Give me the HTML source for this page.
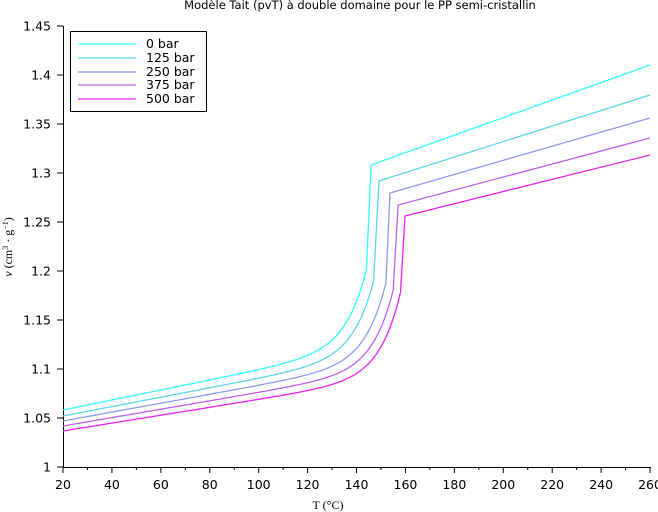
<!DOCTYPE html>
<html><head><meta charset="utf-8"><style>
body{margin:0;background:#fff}
svg{display:block;font-family:"DejaVu Sans","Liberation Sans",sans-serif}
</style></head><body>
<svg id="s" width="658" height="512" viewBox="0 0 658 512">
<text x="360" y="9" font-size="11.5" text-anchor="middle">Modèle Tait (pvT) à double domaine pour le PP semi-cristallin</text>
<g id="ax" stroke="#000" stroke-width="1" fill="none">
<line x1="63.5" y1="26" x2="63.5" y2="467.5"/>
<line x1="63" y1="467.5" x2="651" y2="467.5"/>
</g>
<g id="tk"></g>
<g id="cv" fill="none" stroke-width="1.3"></g>
<rect x="70.5" y="31.5" width="136" height="80" fill="#fff" stroke="#000"/>
<g font-size="12.5">
<line x1="78" y1="44" x2="136" y2="44" stroke="#33ffff" stroke-width="1.3"/><text x="146" y="48">0 bar</text>
<line x1="78" y1="58" x2="136" y2="58" stroke="#5cd6e6" stroke-width="1.3"/><text x="146" y="62">125 bar</text>
<line x1="78" y1="72" x2="136" y2="72" stroke="#8f9cee" stroke-width="1.3"/><text x="146" y="76">250 bar</text>
<line x1="78" y1="85" x2="136" y2="85" stroke="#c060ee" stroke-width="1.3"/><text x="146" y="89">375 bar</text>
<line x1="78" y1="99" x2="136" y2="99" stroke="#ee22ee" stroke-width="1.3"/><text x="146" y="103">500 bar</text>
</g>
<text x="328" y="509" font-size="12" text-anchor="middle" font-family="Liberation Serif,serif">T (°C)</text>
<text transform="translate(12,247) rotate(-90)" font-size="12" text-anchor="middle" font-family="Liberation Serif,serif"><tspan font-style="italic">v</tspan> (cm<tspan font-size="8" dy="-4">3</tspan><tspan dy="4"> · g</tspan><tspan font-size="8" dy="-4">−1</tspan><tspan dy="4">)</tspan></text>
</svg>
<script>
function X(t){return 63+(t-20)*2.446}
function Y(v){return 467-(v-1)*980}
var tk=document.getElementById("tk"),h="";
for(var i=0;i<=9;i++){var v=1+i*0.05,y=Y(v);
h+='<line x1="57" y1="'+y+'" x2="63" y2="'+y+'" stroke="#000"/>';
h+='<text x="51" y="'+(y+4.5)+'" font-size="12.5" text-anchor="end">'+(+v.toFixed(2))+'</text>';}
for(var t=20;t<=260;t+=20){var x=X(t);
h+='<line x1="'+x+'" y1="467" x2="'+x+'" y2="473" stroke="#000"/>';
h+='<text x="'+x+'" y="489" font-size="12.5" text-anchor="middle">'+t+'</text>';}
for(var t=30;t<=250;t+=20){var x=X(t);h+='<line x1="'+x+'" y1="467" x2="'+x+'" y2="470" stroke="#000"/>';}
tk.innerHTML=h;
var S=[["#33ffff",146,263,165,410,65],["#5cd6e6",149.2,272,181,416,95],["#8f9cee",153.7,279,193,421,118],["#c060ee",157,283,205,426,138],["#ee22ee",159.8,287,216,431,155]];
var c="";
S.forEach(function(s){var T=s[1],b=s[2],top=s[3],y0=s[4],ye=s[5];
var sl=0.5*(1-(y0-410)*0.01);
var linT=y0-(T-20)*sl-1.5;var A=linT-b;var p=[];
for(var t=20;t<=T-1.5;t+=1){var y=y0-(t-20)*sl-A*Math.exp((t-T+1.5)/8.5);p.push(X(t).toFixed(1)+","+y.toFixed(1));}
p.push(X(T).toFixed(1)+","+top);
p.push(X(260).toFixed(1)+","+ye);
c+='<polyline stroke="'+s[0]+'" points="'+p.join(" ")+'"/>';});
document.getElementById("cv").innerHTML=c;
</script>
</body></html>
